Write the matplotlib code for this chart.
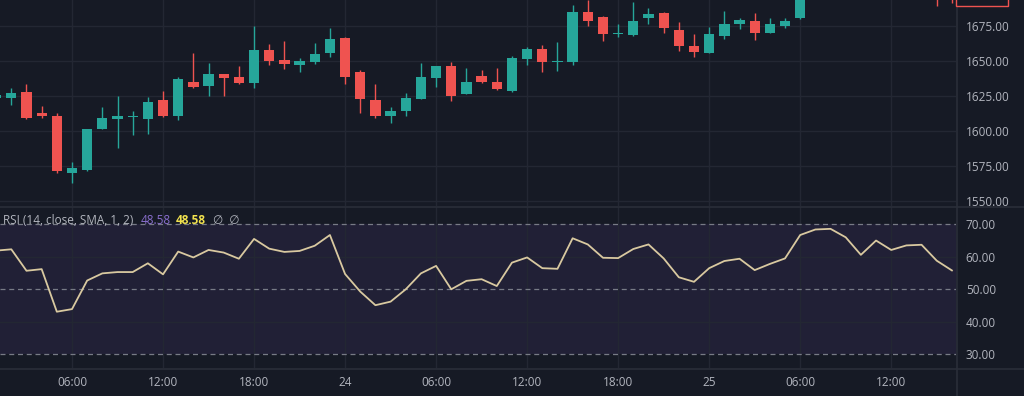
import numpy as np
import matplotlib.pyplot as plt
from matplotlib.lines import Line2D

# ── Figure geometry (pixels) ───────────────────────────────────────────────────
W, H = 1024, 396
BG    = "#161a25"
GRID  = "#232733"
EDGE  = "#2a2e39"
TEXT  = "#b2b5be"
UP    = "#26a69a"
DOWN  = "#ef5350"

plt.rcParams["font.family"] = ["Open Sans", "DejaVu Sans"]

# ── Data: hourly candles (hour 0 = day 23, 00:00) ─────────────────────────────
hours  = list(range(1, 55)) + [63, 64]
opens  = [1623.5, 1623.3, 1627.4, 1612.4, 1610.7, 1570.0, 1571.9, 1601.2, 1608.1, 1609.5,
          1608.1, 1621.9, 1610.7, 1634.5, 1631.7, 1640.5, 1638.6, 1633.8, 1657.6, 1650.5,
          1646.9, 1648.8, 1655.2, 1665.9, 1642.1, 1621.9, 1610.7, 1614.3, 1622.9, 1637.9,
          1646.2, 1626.4, 1639.0, 1635.0, 1628.6, 1650.9, 1658.1, 1649.0, 1648.8, 1685.0,
          1681.0, 1669.0, 1668.3, 1680.2, 1683.8, 1671.9, 1660.7, 1655.7, 1667.6, 1675.9,
          1678.1, 1669.8, 1675.0, 1680.2, 1703.0, 1697.0]
highs  = [1627.0, 1630.7, 1633.1, 1617.6, 1612.4, 1577.9, 1601.0, 1617.1, 1624.8, 1614.0,
          1624.3, 1628.3, 1638.6, 1655.2, 1648.1, 1640.8, 1646.2, 1675.0, 1661.9, 1664.3,
          1651.7, 1662.9, 1673.1, 1667.1, 1643.3, 1633.1, 1616.7, 1626.7, 1648.1, 1646.5,
          1648.8, 1644.5, 1643.3, 1644.5, 1653.3, 1660.0, 1661.2, 1663.6, 1690.0, 1693.3,
          1681.9, 1676.2, 1692.1, 1687.4, 1685.0, 1677.9, 1668.8, 1673.8, 1685.7, 1680.2,
          1684.0, 1680.2, 1680.5, 1702.0, 1706.0, 1699.0]
lows   = [1622.0, 1618.3, 1608.1, 1609.0, 1570.0, 1562.9, 1571.5, 1601.0, 1587.9, 1596.9,
          1598.0, 1609.5, 1607.6, 1630.7, 1624.8, 1624.8, 1633.3, 1630.2, 1646.9, 1644.0,
          1642.1, 1647.6, 1652.4, 1633.1, 1612.9, 1608.8, 1605.2, 1610.7, 1622.4, 1631.4,
          1621.2, 1626.0, 1633.8, 1629.0, 1627.9, 1646.9, 1642.1, 1642.9, 1646.9, 1674.8,
          1664.3, 1666.7, 1668.0, 1676.2, 1669.5, 1657.1, 1652.4, 1655.2, 1665.7, 1672.4,
          1665.0, 1669.5, 1673.1, 1679.5, 1689.0, 1691.0]
closes = [1625.5, 1626.7, 1609.3, 1610.7, 1570.9, 1573.1, 1600.9, 1609.3, 1610.7, 1610.7,
          1620.5, 1610.7, 1637.1, 1631.4, 1640.5, 1637.9, 1633.8, 1657.6, 1649.8, 1647.6,
          1649.8, 1654.5, 1665.5, 1638.6, 1622.6, 1610.5, 1614.0, 1623.1, 1638.1, 1646.2,
          1625.0, 1634.8, 1634.8, 1629.5, 1651.7, 1658.3, 1649.3, 1649.8, 1685.0, 1678.6,
          1669.0, 1669.5, 1678.6, 1683.3, 1673.1, 1660.7, 1656.4, 1668.8, 1675.9, 1678.8,
          1670.0, 1676.0, 1678.6, 1698.0, 1697.0, 1693.5]

rsi_hours = list(range(1, 65))
rsi = [61.9, 62.3, 55.7, 56.2, 43.1, 43.9, 52.7, 54.9, 55.3, 55.3,
       58.0, 54.6, 61.6, 59.8, 62.1, 61.3, 59.4, 65.5, 62.5, 61.5,
       61.8, 63.4, 66.7, 54.7, 49.3, 45.1, 46.2, 50.0, 54.9, 57.2,
       50.0, 52.6, 53.1, 51.0, 58.2, 59.8, 56.5, 56.3, 65.7, 63.8,
       59.7, 59.6, 62.4, 63.8, 59.5, 53.7, 52.3, 56.5, 58.7, 59.4,
       55.9, 57.8, 59.5, 66.7, 68.4, 68.6, 66.0, 60.6, 65.0, 62.1,
       63.5, 63.7, 58.8, 55.8]

time_ticks  = [6, 12, 18, 24, 30, 36, 42, 48, 54, 60]
time_labels = ["06:00", "12:00", "18:00", "24", "06:00", "12:00", "18:00", "25", "06:00", "12:00"]
price_ticks = [1550, 1575, 1600, 1625, 1650, 1675]
rsi_ticks   = [30, 40, 50, 60, 70]
rsi_levels  = [30, 50, 70]
last_price  = "1691.45"


def box(x0, y0, x1, y1):
    """pixel box (top-left origin) -> figure rect"""
    return [x0 / W, 1 - y1 / H, (x1 - x0) / W, (y1 - y0) / H]


fig = plt.figure(figsize=(W / 100, H / 100), dpi=100, facecolor=BG)

# ── Price pane ─────────────────────────────────────────────────────────────────
ax1 = fig.add_axes(box(0, 0, 956, 206), facecolor=BG)
o, h, l, c = map(np.array, (opens, highs, lows, closes))
colors = np.where(c >= o, UP, DOWN)
ax1.vlines(hours, l, h, colors=colors, lw=1.0, zorder=3)
body = np.maximum(np.abs(c - o), 0.6)
ax1.bar(hours, body, bottom=np.minimum(o, c), width=0.68, color=colors, lw=0, zorder=4)

ax1.set_xlim(1.254, 64.27)
ax1.set_ylim(1546.2, 1693.4)
ax1.yaxis.tick_right()
ax1.set_yticks(price_ticks, [f"{v:.2f}" for v in price_ticks])
ax1.set_xticks(time_ticks)
ax1.tick_params(axis="y", length=0, pad=7, labelcolor=TEXT, labelsize=8.5)
ax1.tick_params(axis="x", length=0, labelbottom=False)
ax1.grid(True, color=GRID, lw=1.0, zorder=0)
for s in ax1.spines.values():
    s.set_visible(False)

# ── RSI pane ───────────────────────────────────────────────────────────────────
ax2 = fig.add_axes(box(0, 207, 956, 368), facecolor=BG)
ax2.axhspan(30, 70, color="#7e57c2", alpha=0.11, lw=0, zorder=0)
for lvl in (40, 60):
    ax2.axhline(lvl, color=GRID, lw=1.0, zorder=1)
for lvl in rsi_levels:
    ax2.axhline(lvl, color="#787b86", lw=0.9, dashes=(4, 3), zorder=2)
ax2.plot(rsi_hours, rsi, color="#d9c9a0", lw=1.3, zorder=3)

ax2.set_xlim(1.254, 64.27)
ax2.set_ylim(25.78, 75.32)
ax2.yaxis.tick_right()
ax2.set_yticks(rsi_ticks, [f"{v:.2f}" for v in rsi_ticks])
ax2.set_xticks(time_ticks, time_labels)
ax2.tick_params(axis="y", length=0, pad=7, labelcolor=TEXT, labelsize=8.5)
ax2.tick_params(axis="x", length=0, pad=6, labelcolor=TEXT, labelsize=8.5)
ax2.grid(True, axis="x", color=GRID, lw=1.0, zorder=0)
for s in ax2.spines.values():
    s.set_visible(False)

# RSI legend line
ty = 1 - 221 / H
fig.text(3 / W, ty, "RSI (14, close, SMA, 1, 2)", color=TEXT, fontsize=8.5, va="center")
fig.text(141 / W, ty, "48.58", color="#8a6fcf", fontsize=8.5, va="center")
fig.text(176 / W, ty, "48.58", color="#f2e24e", fontsize=8.5, va="center", fontweight="bold")
fig.text(213 / W, ty, "\u2205  \u2205", color=TEXT, fontsize=8.5, va="center")

# pane separators
fig.add_artist(Line2D([0, 1], [1 - 206.5 / H] * 2, color=EDGE, lw=1.2))
fig.add_artist(Line2D([0, 1], [1 - 368.5 / H] * 2, color=EDGE, lw=1.2))
fig.add_artist(Line2D([956.5 / W] * 2, [0, 1], color=EDGE, lw=1.2))

# last price label (cut by top edge, as in the source screenshot)
fig.text(960 / W, 1 + 5 / H, last_price, color="#f0f0f0", fontsize=8.5, va="center",
         bbox=dict(boxstyle="square,pad=0.35", fc=BG, ec=DOWN, lw=1))

fig.savefig("out.png", dpi=100, facecolor=BG)
